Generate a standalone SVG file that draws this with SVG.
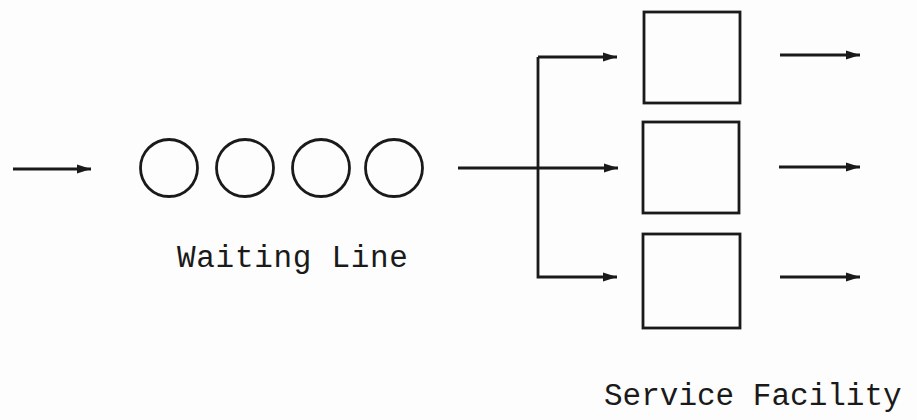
<svg xmlns="http://www.w3.org/2000/svg" width="917" height="420" viewBox="0 0 917 420">
<style>
.ln{stroke:#1a1a1a;stroke-width:2.8;fill:none}
.shape{stroke:#1a1a1a;stroke-width:2.8;fill:none}
.lbl{font-family:"Liberation Mono","Courier New",monospace;font-size:31px;fill:#1a1a1a}
</style>
<defs>
<marker id="ah" markerWidth="15" markerHeight="10" refX="14" refY="5" orient="auto" markerUnits="userSpaceOnUse">
<path d="M0,0.5 L14,5 L0,9.5 Z" fill="#1a1a1a"/>
</marker>
</defs>
<rect width="917" height="420" fill="#fdfdfd"/>
<g id="connectors">
<line class="ln" x1="13" y1="169" x2="91" y2="169" marker-end="url(#ah)"/>
<line class="ln" x1="458" y1="168" x2="618" y2="168" marker-end="url(#ah)"/>
<path class="ln" d="M538,57 L538,277 L617,277" marker-end="url(#ah)"/>
<line class="ln" x1="538" y1="57" x2="617" y2="57" marker-end="url(#ah)"/>
<line class="ln" x1="780" y1="55" x2="860" y2="55" marker-end="url(#ah)"/>
<line class="ln" x1="779" y1="167" x2="860" y2="167" marker-end="url(#ah)"/>
<line class="ln" x1="780" y1="277" x2="860" y2="277" marker-end="url(#ah)"/>
</g>
<g id="queue">
<circle class="shape" cx="169" cy="168" r="28.5"/>
<circle class="shape" cx="245" cy="168" r="28.5"/>
<circle class="shape" cx="321" cy="168" r="28.5"/>
<circle class="shape" cx="394" cy="168" r="28.5"/>
<text class="lbl" x="177" y="267" letter-spacing="0.7">Waiting Line</text>
</g>
<g id="server1"><rect class="shape" x="644" y="12" width="96" height="91"/></g>
<g id="server2"><rect class="shape" x="643" y="122" width="96" height="91"/></g>
<g id="server3"><rect class="shape" x="643" y="234" width="97" height="94"/></g>
<g id="facility-label"><text class="lbl" x="604" y="405">Service Facility</text></g>
</svg>
